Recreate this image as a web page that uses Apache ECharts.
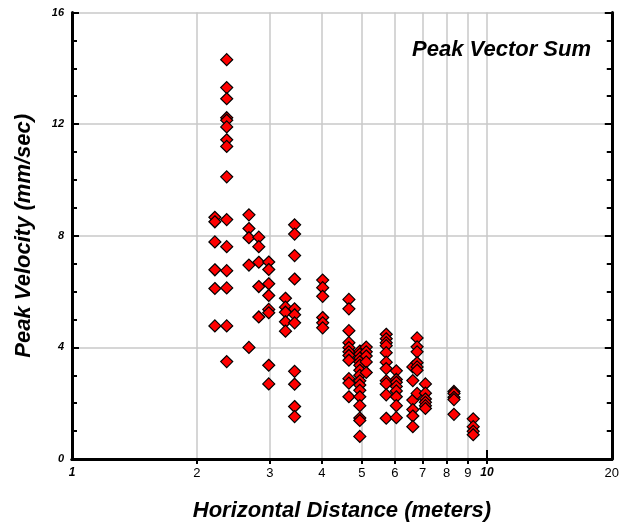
<!DOCTYPE html>
<html>
<head>
<meta charset="utf-8">
<script src="https://cdn.jsdelivr.net/npm/echarts@6/dist/echarts.min.js"></script>
<style>
  html, body { margin: 0; padding: 0; background: #fff; }
  #chart { width: 622px; height: 527px; }
</style>
</head>
<body>
<div id="chart"></div>
<script>
// Horizontal distance (m) of each measurement column
const distance = [2.21, 2.36, 2.67, 2.82, 2.98, 3.27, 3.44, 4.02, 4.65, 4.94, 5.12, 5.72, 6.05, 6.63, 6.79, 7.11, 8.33, 9.27];

// Peak vector sum velocities (mm/sec) recorded at each distance
const velocity = [
  [8.66, 8.50, 7.78, 6.78, 6.11, 4.77],
  [14.31, 13.31, 12.91, 12.23, 12.14, 11.90, 11.44, 11.20, 10.11, 8.58, 7.61, 6.75, 6.13, 4.77, 3.49],
  [8.75, 8.26, 7.93, 6.95, 4.00],
  [7.95, 7.61, 7.05, 6.18, 5.09],
  [7.06, 6.79, 6.28, 5.86, 5.36, 5.24, 3.36, 2.69],
  [5.76, 5.44, 5.26, 4.92, 4.58],
  [8.39, 8.06, 7.29, 6.45, 5.38, 5.17, 4.88, 3.14, 2.68, 1.88, 1.52],
  [6.41, 6.14, 5.83, 5.07, 4.88, 4.70],
  [5.72, 5.38, 4.60, 4.17, 3.99, 3.84, 3.71, 3.54, 2.88, 2.72, 2.23],
  [3.87, 3.76, 3.62, 3.48, 3.36, 3.18, 3.00, 2.80, 2.65, 2.46, 2.23, 1.91, 1.47, 1.38, 0.81],
  [4.01, 3.84, 3.69, 3.48, 3.10],
  [4.47, 4.31, 4.17, 4.06, 3.81, 3.47, 3.24, 2.80, 2.70, 2.30, 1.46],
  [3.16, 2.85, 2.75, 2.60, 2.44, 2.23, 1.91, 1.48],
  [3.30, 2.81, 2.11, 1.77, 1.54, 1.16],
  [4.34, 4.02, 3.84, 3.45, 3.30, 3.18, 2.35],
  [2.69, 2.36, 2.15, 2.03, 1.91, 1.81],
  [2.42, 2.35, 2.21, 2.13, 1.60],
  [1.44, 1.16, 0.99, 0.87]
];

// Tick labels
const xLabels = [1, 2, 3, 4, 5, 6, 7, 8, 9, 10, 20];
const xGrid = [2, 3, 4, 5, 6, 7, 8, 9, 10];
const yLabels = [0, 4, 8, 12, 16];

const points = [];
distance.forEach((d, i) => velocity[i].forEach(v => points.push([d, v])));

const FONT = '"Liberation Sans", Arial, sans-serif';
const frame = { show: true, lineStyle: { color: '#000', width: 3 } };
const gridLine = { show: true, lineStyle: { color: '#c8c8c8', width: 1.5 } };
const nameStyle = { fontFamily: FONT, fontSize: 22, fontWeight: 'bold', fontStyle: 'italic', color: '#000' };

const chart = echarts.init(document.getElementById('chart'), null, { renderer: 'canvas' });
chart.setOption({
  animation: false,
  backgroundColor: '#fff',
  title: {
    text: 'Peak Vector Sum',
    right: 26, top: 34,
    textStyle: nameStyle
  },
  grid: { left: 72, right: 7, top: 12.5, bottom: 66.3 },
  xAxis: [
    {
      type: 'log', logBase: 10, min: 1, max: 20, position: 'bottom',
      name: 'Horizontal Distance (meters)', nameLocation: 'middle', nameGap: 41,
      nameTextStyle: nameStyle,
      axisLine: frame,
      axisTick: { show: true, inside: true, length: 9, customValues: [10], lineStyle: { color: '#000', width: 2 } },
      splitLine: { show: false },
      axisLabel: {
        customValues: xLabels, margin: 8,
        fontFamily: FONT, fontSize: 13, color: '#000',
        formatter: v => (v === 1 || v === 10) ? '{b|' + v + '}' : String(v),
        rich: { b: { fontFamily: FONT, fontSize: 12, fontWeight: 'bold', fontStyle: 'italic', color: '#000' } }
      }
    },
    {
      type: 'log', logBase: 10, min: 1, max: 20, position: 'top',
      axisLine: frame,
      axisTick: { show: true, inside: true, length: 5, customValues: xGrid, lineStyle: { color: '#000', width: 2 } },
      axisLabel: { show: false, customValues: xGrid },
      splitLine: gridLine
    }
  ],
  yAxis: [
    {
      type: 'value', min: 0, max: 16, interval: 4, position: 'left',
      name: 'Peak Velocity (mm/sec)', nameLocation: 'middle', nameGap: 37,
      nameTextStyle: nameStyle,
      axisLine: frame,
      axisTick: { show: true, inside: true, length: 7, lineStyle: { color: '#000', width: 2 } },
      minorTick: { show: true, splitNumber: 4, length: 5, lineStyle: { color: '#000', width: 2 } },
      splitLine: gridLine,
      axisLabel: {
        margin: 8,
        fontFamily: FONT, fontSize: 11, fontWeight: 'bold', fontStyle: 'italic', color: '#000',
        formatter: v => yLabels.includes(v) ? String(v) : ''
      }
    },
    {
      type: 'value', min: 0, max: 16, interval: 4, position: 'right',
      axisLine: frame,
      axisTick: { show: true, inside: true, length: 7, lineStyle: { color: '#000', width: 2 } },
      minorTick: { show: true, splitNumber: 4, length: 5, lineStyle: { color: '#000', width: 2 } },
      splitLine: { show: false },
      axisLabel: { show: false }
    }
  ],
  series: [{
    type: 'scatter',
    xAxisIndex: 0, yAxisIndex: 0,
    symbol: 'diamond',
    symbolSize: 12,
    itemStyle: { color: '#ff0000', borderColor: '#000', borderWidth: 1.2, opacity: 1 },
    data: points
  }]
});
</script>
</body>
</html>
